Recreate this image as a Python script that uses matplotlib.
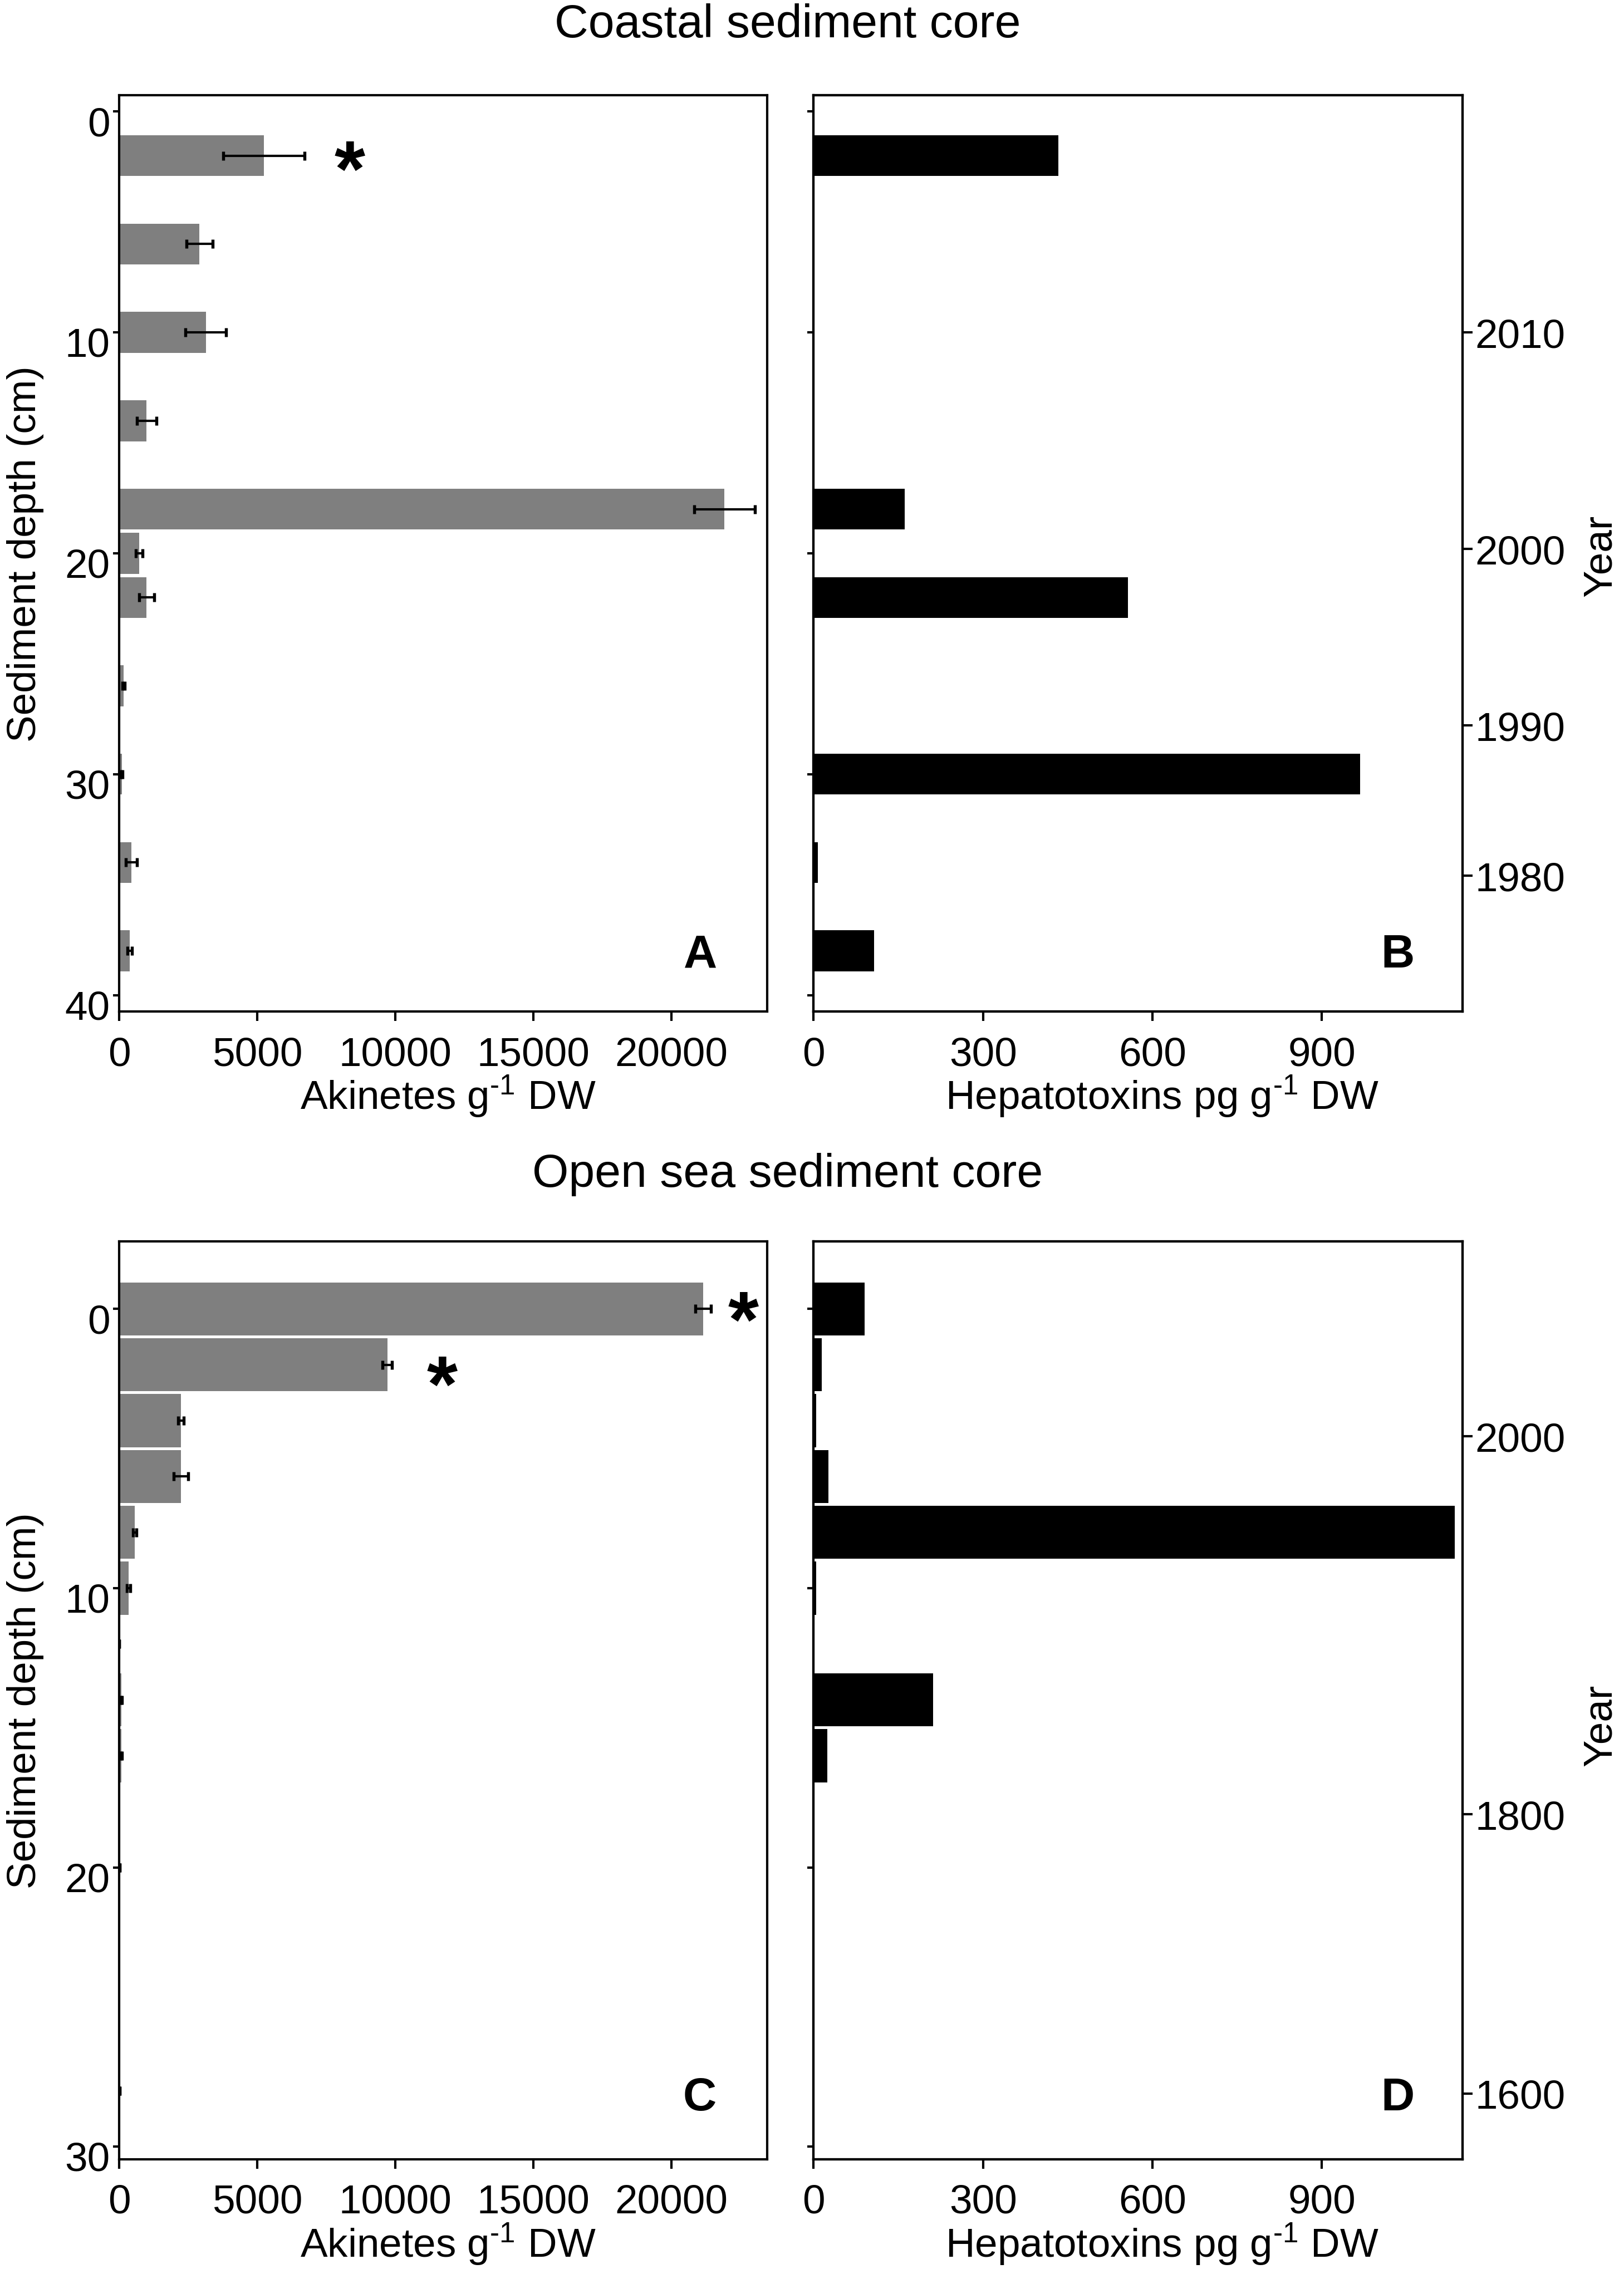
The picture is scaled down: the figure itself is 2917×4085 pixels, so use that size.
import numpy as np
import matplotlib
matplotlib.use('Agg')
import matplotlib.pyplot as plt
import matplotlib.transforms as mtrans

plt.rcParams['font.family'] = ['Liberation Sans', 'DejaVu Sans']
plt.rcParams['mathtext.fontset'] = 'custom'
plt.rcParams['mathtext.rm'] = 'Liberation Sans'
plt.rcParams['mathtext.it'] = 'Liberation Sans'
plt.rcParams['axes.linewidth'] = 1.0

# Coastal core (panels A, B)
coastal_depth = [2, 6, 10, 14, 18, 20, 22, 26, 30, 34, 38]
coastal_akinetes = [5240, 2905, 3130, 990, 21920, 710, 990, 150, 90, 430, 375]
coastal_akinetes_err = [1475, 465, 730, 345, 1100, 120, 270, 40, 30, 200, 75]
coastal_toxins = [433, 2, 2, 2, 161, 0, 557, 2, 968, 7, 107]
coastal_year_depth = [10, 19.8, 27.8, 34.6]
coastal_years = ['2010', '2000', '1990', '1980']

# Open sea core (panels C, D)
open_depth = [0, 2, 4, 6, 8, 10, 12, 14, 16, 20, 28]
open_akinetes = [21150, 9710, 2235, 2235, 560, 340, 0, 75, 75, 20, 20]
open_akinetes_err = [280, 170, 100, 260, 60, 60, 0, 20, 20, 0, 0]
open_toxins = [90, 14, 5, 26, 1135, 5, 2, 212, 24, 2, 2]
open_year_depth = [4.56, 18.1, 28.1]
open_years = ['2000', '1800', '1600']

fs = 17.5

fig = plt.figure(figsize=(2917/300, 4086/300), dpi=300)
axA = fig.add_axes([0.0735, 0.555, 0.399, 0.403])
axB = fig.add_axes([0.501, 0.555, 0.3995, 0.403])
axC = fig.add_axes([0.0735, 0.0505, 0.399, 0.4035])
axD = fig.add_axes([0.501, 0.0505, 0.3995, 0.4035])

err_kw = dict(ecolor='black', elinewidth=1.0, capsize=2, capthick=1.3)
# left depth labels sit a little below their ticks in the original
shift_down = mtrans.ScaledTranslation(0, -4/72, fig.dpi_scale_trans)


def style(ax):
    ax.tick_params(axis='y', direction='out', length=2.6, width=1.0, pad=1.5, labelsize=fs)
    ax.tick_params(axis='x', direction='out', length=4, width=1.0, pad=6.5, labelsize=fs)


def akinete_panel(ax, depth, vals, errs, ylim, yticks, bh):
    ax.barh(depth, vals, height=bh, color='#7f7f7f', xerr=errs, error_kw=err_kw)
    ax.set_xlim(0, 23470)
    ax.set_ylim(*ylim)
    ax.set_xticks([0, 5000, 10000, 15000, 20000])
    ax.set_yticks(yticks)
    style(ax)
    for lab in ax.get_yticklabels():
        lab.set_transform(lab.get_transform() + shift_down)
    ax.set_xlabel(r'Akinetes g$^{\text{-1}}$ DW', fontsize=fs, va='center')
    ax.xaxis.set_label_coords(0.507, -0.092)
    ax.set_ylabel('Sediment depth (cm)', fontsize=fs, va='center')
    ax.yaxis.set_label_coords(-0.145, 0.5)


def toxin_panel(ax, depth, vals, ylim, yticks, bh, ydepth, years, ylab_y):
    ax.barh(depth, vals, height=bh, color='black')
    ax.set_xlim(0, 1149)
    ax.set_ylim(*ylim)
    ax.set_xticks([0, 300, 600, 900])
    ax.set_yticks(yticks)
    ax.set_yticklabels([])
    style(ax)
    ax.set_xlabel(r'Hepatotoxins pg g$^{\text{-1}}$ DW', fontsize=fs, va='center')
    ax.xaxis.set_label_coords(0.537, -0.092)
    tw = ax.twinx()
    tw.set_ylim(*ylim)
    tw.set_yticks(ydepth)
    tw.set_yticklabels(years)
    tw.tick_params(axis='y', direction='out', length=4.2, width=1.0, pad=1.2, labelsize=fs)
    tw.set_ylabel('Year', fontsize=fs, rotation=90, va='center')
    tw.yaxis.set_label_coords(1.213, ylab_y)


akinete_panel(axA, coastal_depth, coastal_akinetes, coastal_akinetes_err,
              (40.75, -0.75), [0, 10, 20, 30, 40], 1.85)
toxin_panel(axB, coastal_depth, coastal_toxins, (40.75, -0.75),
            [0, 10, 20, 30, 40], 1.85, coastal_year_depth, coastal_years, 0.498)
akinete_panel(axC, open_depth, open_akinetes, open_akinetes_err,
              (30.45, -2.42), [0, 10, 20, 30], 1.9)
toxin_panel(axD, open_depth, open_toxins, (30.45, -2.42),
            [0, 10, 20, 30], 1.9, open_year_depth, open_years, 0.473)

# significance asterisks
for ax, x, y in [(axA, 8350, 2.1), (axC, 22610, 0.0), (axC, 11690, 2.3)]:
    ax.annotate('*', (x, y), xytext=(0, -16), textcoords='offset points',
                ha='center', va='baseline', fontsize=34, fontweight='bold')

for ax, lab, x, y in [(axA, 'A', 0.897, 0.062), (axB, 'B', 0.90, 0.062),
                      (axC, 'C', 0.896, 0.067), (axD, 'D', 0.90, 0.067)]:
    ax.text(x, y, lab, transform=ax.transAxes, ha='center', va='center',
            fontsize=20, fontweight='bold')

fig.text(0.485, 0.989, 'Coastal sediment core', ha='center', va='center', fontsize=20.2)
fig.text(0.485, 0.4837, 'Open sea sediment core', ha='center', va='center', fontsize=20.2)

fig.savefig('out.png', dpi=300)
